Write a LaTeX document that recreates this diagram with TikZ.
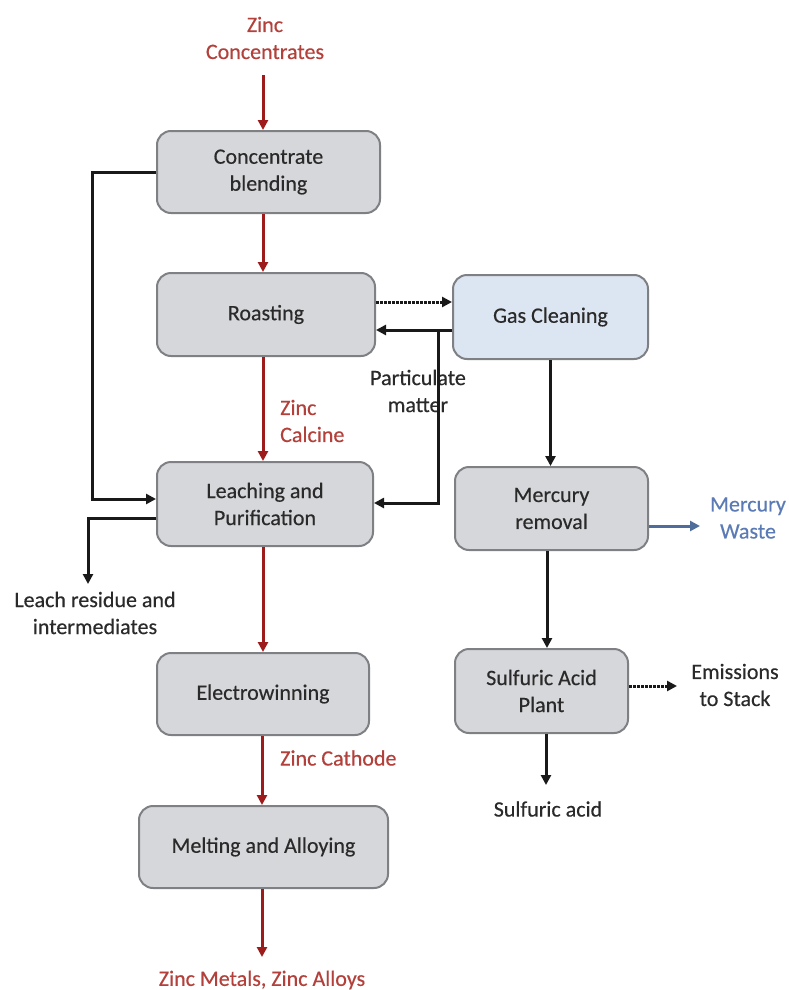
\documentclass[tikz,border=0pt]{standalone}
\usepackage{fontspec}
\setmainfont{Carlito}[FakeBold=0.35]
\usetikzlibrary{arrows.meta}
\definecolor{boxfill}{HTML}{D6D7DA}
\definecolor{gasfill}{HTML}{DCE5F2}
\definecolor{boxline}{HTML}{7E8084}
\definecolor{txt}{HTML}{2A2A2A}
\definecolor{redline}{HTML}{9E1B1B}
\definecolor{redtxt}{HTML}{B3403A}
\definecolor{blueline}{HTML}{4F6D9A}
\definecolor{bluetxt}{HTML}{5A7BB5}
\tikzset{
  procbox/.style={draw=boxline, line width=2pt, fill=boxfill, rounded corners=14pt,
    align=center, text=txt, font=\fontsize{22}{27}\selectfont, inner sep=0pt},
  lbl/.style={align=center, text=txt, font=\fontsize{22}{27}\selectfont, inner sep=0pt},
  redlbl/.style={align=left, text=redtxt, font=\fontsize{22}{27}\selectfont, inner sep=0pt},
  bluelbl/.style={align=center, text=bluetxt, font=\fontsize{22}{27}\selectfont, inner sep=0pt},
  tip/.style={-{Triangle[length=10pt,width=10pt]}},
  redflow/.style={tip, draw=redline, line width=3pt},
  blkflow/.style={tip, draw=black!90, line width=3pt},
  dotflow/.style={tip, draw=black!90, line width=3pt, densely dotted},
  blueflow/.style={tip, draw=blueline, line width=3pt}
}
\begin{document}
\begin{tikzpicture}[x=1pt,y=-1pt]
\useasboundingbox[fill=white] (0,0) rectangle (788,990);
% process boxes
\node[procbox, minimum width=223pt, minimum height=82pt] (blend) at (268.5,172) {Concentrate\\blending};
\node[procbox, minimum width=218pt, minimum height=83pt] (roast) at (266,314.5) {Roasting};
\node[procbox, fill=gasfill, minimum width=195pt, minimum height=84pt] (gas) at (550.5,317) {Gas Cleaning};
\node[procbox, minimum width=216pt, minimum height=84pt] (leach) at (265,504) {Leaching and\\Purification};
\node[procbox, minimum width=193pt, minimum height=83pt] (merc) at (551.5,508.5) {Mercury\\removal};
\node[procbox, minimum width=212pt, minimum height=82pt] (elec) at (263,694) {Electrowinning};
\node[procbox, minimum width=249pt, minimum height=82pt] (melt) at (263.5,847) {Melting and Alloying};
\node[procbox, minimum width=173pt, minimum height=84pt] (sulf) at (541.5,691) {Sulfuric Acid\\Plant};
% labels
\node[redlbl, align=center] (conc) at (265,38) {Zinc\\Concentrates};
\node[redlbl, anchor=west] (calc) at (280,421) {Zinc\\Calcine};
\node[redlbl, anchor=west] (cath) at (280,758) {Zinc Cathode};
\node[redlbl, align=center] (metal) at (262,980) {Zinc Metals, Zinc Alloys};
\node[lbl] (resid) at (95,613) {Leach residue and\\intermediates};
\node[lbl] (partic) at (418,391) {Particulate\\matter};
\node[bluelbl] (waste) at (748,518) {Mercury\\Waste};
\node[lbl] (emis) at (735,685) {Emissions\\to Stack};
\node[lbl] (acid) at (548,809) {Sulfuric acid};
% helper coordinates
\coordinate (spine) at (263,0);
\coordinate (spineb) at (262,0);
\coordinate (concend) at (263,75);
\coordinate (metalend) at (262,957);
\coordinate (residend) at (88,584);
\coordinate (pmsplit) at (438,330);
\coordinate (wasteend) at (700,526);
\coordinate (emisend) at (677,686);
\coordinate (mspine) at (547,0);
\coordinate (acidend) at (546,785);
% red main flow
\draw[redflow] (concend) -- (spine |- blend.north);
\draw[redflow] (spine |- blend.south) -- (spine |- roast.north);
\draw[redflow] (spine |- roast.south) -- (spine |- leach.north);
\draw[redflow] (spine |- leach.south) -- (spine |- elec.north);
\draw[redflow] (spineb |- elec.south) -- (spineb |- melt.north);
\draw[redflow] (spineb |- melt.south) -- (metalend);
% left loops
\draw[blkflow] (blend.west) -- (92,172) |- (leach.west |- 0,499);
\draw[blkflow] (leach.west |- 0,518) -| (residend);
% gas side
\draw[dotflow] (roast.east |- 0,302) -- (gas.west |- 0,302);
\draw[blkflow] (gas.west |- pmsplit) -- (roast.east |- pmsplit);
\draw[blkflow] (pmsplit) |- (leach.east |- 0,503);
\draw[blkflow] (gas.south) -- (gas.south |- merc.north);
\draw[blueflow] (merc.east |- wasteend) -- (wasteend);
\draw[blkflow] (mspine |- merc.south) -- (mspine |- sulf.north);
\draw[dotflow] (sulf.east |- emisend) -- (emisend);
\draw[blkflow] (acidend |- sulf.south) -- (acidend);
\end{tikzpicture}
\end{document}
